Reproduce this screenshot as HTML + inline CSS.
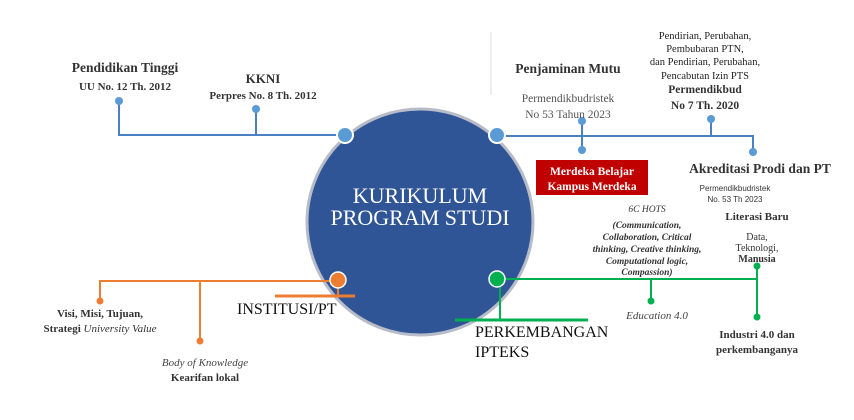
<!DOCTYPE html>
<html><head><meta charset="utf-8"><style>
body{margin:0;background:#fff;}
svg text{font-family:"Liberation Serif",serif;}
</style></head><body>
<svg width="854" height="415" viewBox="0 0 854 415" xmlns="http://www.w3.org/2000/svg">
<rect width="854" height="415" fill="#fff"/>
<line x1="491" y1="32" x2="491" y2="95" stroke="#ddd" stroke-width="1"/>
<circle cx="420" cy="222" r="113" fill="#2f5597" stroke="#b8bcc8" stroke-width="3"/>
<text x="420" y="203" fill="#fff" font-size="22" text-anchor="middle">KURIKULUM</text>
<text x="420" y="225" fill="#fff" font-size="22" text-anchor="middle">PROGRAM STUDI</text>
<g stroke="#4a7fc1" stroke-width="2" fill="none">
<polyline points="119,101 119,135 345,135"/>
<line x1="256" y1="109" x2="256" y2="135"/>
<polyline points="497,136 753,136 753,152"/>
<line x1="582" y1="118" x2="582" y2="150"/>
<line x1="711" y1="119" x2="711" y2="136"/>
</g>
<g fill="#5b9bd5">
<circle cx="119" cy="101" r="4"/><circle cx="256" cy="109" r="4"/>
<circle cx="582" cy="121" r="4"/><circle cx="582" cy="150" r="4"/>
<circle cx="711" cy="119" r="4"/><circle cx="753" cy="152" r="4"/>
</g>
<circle cx="345" cy="135" r="8" fill="#5b9bd5" stroke="#fff" stroke-width="2"/>
<circle cx="497" cy="135" r="8" fill="#5b9bd5" stroke="#fff" stroke-width="2"/>
<g stroke="#ed7d31" stroke-width="2" fill="none">
<polyline points="100,301 100,281 338,281"/>
<line x1="200" y1="281" x2="200" y2="341"/>
<line x1="275" y1="296" x2="355" y2="296" stroke-width="3"/>
<line x1="338" y1="281" x2="338" y2="296"/>
</g>
<circle cx="100" cy="301" r="3.5" fill="#ed7d31"/><circle cx="200" cy="341" r="3.5" fill="#ed7d31"/>
<circle cx="338" cy="280" r="8" fill="#ed7d31" stroke="#fff" stroke-width="1.5"/>
<g stroke="#00b050" stroke-width="2" fill="none">
<line x1="497" y1="279" x2="757" y2="279"/>
<line x1="757" y1="266" x2="757" y2="317"/>
<line x1="651" y1="279" x2="651" y2="301"/>
<line x1="500" y1="279" x2="500" y2="320"/>
<line x1="455" y1="320" x2="588" y2="320" stroke-width="3"/>
</g>
<circle cx="757" cy="266" r="3.5" fill="#00b050"/><circle cx="757" cy="317" r="3.5" fill="#00b050"/><circle cx="651" cy="301" r="3.5" fill="#00b050"/>
<circle cx="497" cy="279" r="8" fill="#00b050" stroke="#fff" stroke-width="1.5"/>
<rect x="536" y="160" width="112" height="35" fill="#c00000"/>
<text x="592" y="175" fill="#fff" font-size="11.5" font-weight="bold" text-anchor="middle">Merdeka Belajar</text>
<text x="592" y="190" fill="#fff" font-size="11.5" font-weight="bold" text-anchor="middle">Kampus Merdeka</text>
<g fill="#333" text-anchor="middle">
<text x="125" y="72" font-size="13.5" font-weight="bold">Pendidikan Tinggi</text>
<text x="125" y="90" font-size="11" font-weight="bold">UU No. 12 Th. 2012</text>
<text x="263" y="83" font-size="13" font-weight="bold">KKNI</text>
<text x="263" y="99" font-size="11" font-weight="bold">Perpres No. 8 Th. 2012</text>
<text x="568" y="73" font-size="13.5" font-weight="bold">Penjaminan Mutu</text>
<text x="568" y="102" font-size="11.5" fill="#555">Permendikbudristek</text>
<text x="568" y="118" font-size="11.5" fill="#555">No 53 Tahun 2023</text>
<text x="705" y="39" font-size="10.5" fill="#222">Pendirian, Perubahan,</text>
<text x="705" y="52" font-size="10.5" fill="#222">Pembubaran PTN,</text>
<text x="705" y="65" font-size="10.5" fill="#222">dan Pendirian, Perubahan,</text>
<text x="705" y="79" font-size="10.5" fill="#222">Pencabutan Izin PTS</text>
<text x="705" y="93" font-size="11.5" font-weight="bold">Permendikbud</text>
<text x="705" y="109" font-size="11.5" font-weight="bold">No 7 Th. 2020</text>
<text x="760" y="173" font-size="13.5" font-weight="bold">Akreditasi Prodi dan PT</text>
<text x="735" y="191" font-size="8" style="font-family:'Liberation Sans',sans-serif">Permendikbudristek</text>
<text x="735" y="202" font-size="8" style="font-family:'Liberation Sans',sans-serif">No. 53 Th 2023</text>
<text x="757" y="220" font-size="11" font-weight="bold">Literasi Baru</text>
<text x="757" y="240" font-size="10">Data,</text>
<text x="757" y="251" font-size="10">Teknologi,</text>
<text x="757" y="262" font-size="10" font-weight="bold">Manusia</text>
<g font-style="italic" font-size="9.5" font-weight="bold">
<text x="647" y="212" font-weight="normal">6C HOTS</text>
<text x="647" y="228">(Communication,</text>
<text x="647" y="240">Collaboration, Critical</text>
<text x="647" y="252">thinking, Creative thinking,</text>
<text x="647" y="264">Computational logic,</text>
<text x="647" y="275">Compassion)</text>
</g>
<text x="657" y="319" font-size="11" font-style="italic" fill="#444">Education 4.0</text>
<text x="757" y="338" font-size="11" font-weight="bold">Industri 4.0 dan</text>
<text x="757" y="353" font-size="11" font-weight="bold">perkembanganya</text>
<text x="100" y="317" font-size="11" font-weight="bold">Visi, Misi, Tujuan,</text>
<text x="100" y="332" font-size="11" font-weight="bold">Strategi <tspan font-style="italic" font-weight="normal">University Value</tspan></text>
<text x="205" y="366" font-size="11" font-style="italic" fill="#444">Body of Knowledge</text>
<text x="205" y="381" font-size="11" font-weight="bold">Kearifan lokal</text>
</g>
<text x="237" y="314" font-size="16" fill="#111">INSTITUSI/PT</text>
<text x="475" y="337" font-size="16" fill="#111">PERKEMBANGAN</text>
<text x="475" y="357" font-size="16" fill="#111">IPTEKS</text>
</svg>
</body></html>
